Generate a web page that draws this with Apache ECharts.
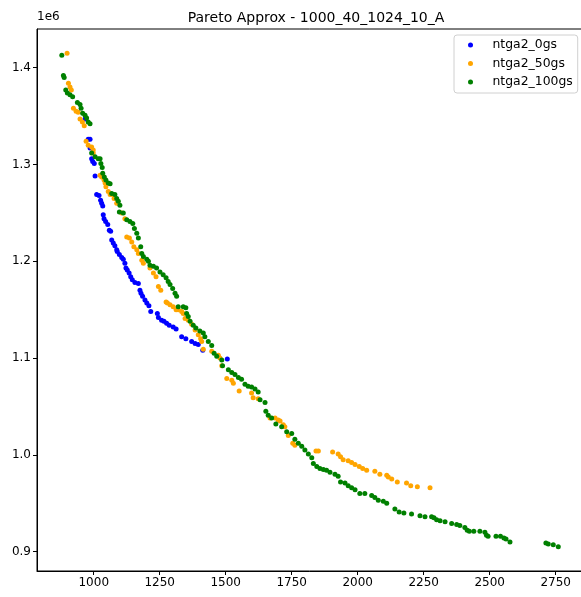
<!DOCTYPE html>
<html>
<head>
<meta charset="utf-8">
<script src="https://cdn.jsdelivr.net/npm/echarts@6/dist/echarts.min.js"></script>
<style>html,body{margin:0;padding:0;background:#fff}#c{width:581px;height:597px}</style>
</head>
<body>
<div id="c"></div>
<script>
const titleText = 'Pareto Approx - 1000_40_1024_10_A';
const seriesNames = ['ntga2_0gs', 'ntga2_50gs', 'ntga2_100gs'];
const xTicks = [1000, 1250, 1500, 1750, 2000, 2250, 2500, 2750];
const yTicks = [0.9, 1.0, 1.1, 1.2, 1.3, 1.4];

// values in units of 1e6 for y
const blueX = [967,979,986,986,992,996,1002,1005,1011,1020,1026,1030,1034,1036,1039,1045,1053,1059,1064,1068,1074,1080,1087,1089,1097,1106,1112,1118,1122,1127,1134,1140,1146,1156,1169,1175,1179,1185,1194,1201,1209,1216,1241,1245,1257,1266,1276,1286,1301,1312,1333,1349,1371,1384,1396,1413,1506];
const blueY = [1.347,1.326,1.326,1.317,1.306,1.303,1.301,1.288,1.269,1.268,1.263,1.260,1.257,1.248,1.244,1.241,1.238,1.232,1.231,1.222,1.219,1.216,1.212,1.210,1.207,1.204,1.202,1.198,1.193,1.191,1.188,1.184,1.181,1.178,1.177,1.170,1.167,1.164,1.160,1.157,1.154,1.148,1.146,1.142,1.139,1.138,1.136,1.134,1.132,1.130,1.122,1.120,1.117,1.115,1.114,1.108,1.099];

const orangeX = [899,904,910,915,923,933,941,948,957,964,971,979,992,998,998,1024,1030,1039,1043,1046,1055,1062,1072,1077,1087,1106,1118,1125,1135,1144,1152,1163,1169,1182,1188,1213,1226,1236,1245,1254,1274,1279,1289,1301,1312,1320,1333,1339,1346,1358,1371,1384,1396,1405,1409,1415,1447,1472,1478,1485,1504,1523,1529,1551,1598,1604,1623,1668,1687,1699,1706,1718,1724,1737,1754,1762,1842,1851,1905,1926,1935,1945,1964,1977,1990,2006,2019,2034,2065,2084,2110,2116,2129,2150,2185,2201,2226,2274];
const orangeY = [1.415,1.384,1.380,1.377,1.358,1.355,1.354,1.347,1.344,1.340,1.324,1.320,1.318,1.315,1.312,1.289,1.287,1.284,1.281,1.277,1.272,1.269,1.269,1.265,1.260,1.250,1.244,1.225,1.224,1.220,1.215,1.212,1.208,1.201,1.198,1.193,1.188,1.184,1.174,1.170,1.158,1.157,1.155,1.153,1.150,1.150,1.148,1.146,1.141,1.139,1.135,1.129,1.124,1.120,1.117,1.109,1.107,1.103,1.100,1.092,1.079,1.077,1.074,1.066,1.064,1.059,1.058,1.038,1.038,1.036,1.035,1.031,1.029,1.020,1.012,1.010,1.004,1.004,1.003,1.001,0.998,0.995,0.994,0.992,0.990,0.988,0.986,0.984,0.983,0.980,0.979,0.977,0.975,0.972,0.971,0.968,0.967,0.966];

const greenX = [879,885,888,894,900,910,920,938,948,952,958,967,973,979,986,992,1005,1017,1024,1027,1032,1034,1040,1046,1055,1062,1068,1080,1087,1093,1099,1097,1112,1125,1137,1148,1154,1163,1169,1178,1182,1188,1201,1207,1213,1226,1238,1251,1263,1274,1282,1289,1299,1308,1314,1320,1339,1349,1352,1358,1365,1377,1387,1402,1415,1421,1434,1447,1456,1466,1485,1488,1510,1523,1535,1548,1560,1573,1585,1598,1611,1623,1630,1649,1652,1661,1674,1690,1712,1731,1750,1762,1775,1788,1800,1813,1826,1832,1845,1857,1870,1882,1895,1914,1926,1935,1952,1964,1977,1990,2008,2027,2053,2065,2078,2097,2110,2141,2157,2175,2204,2236,2255,2280,2289,2299,2312,2331,2356,2375,2387,2406,2415,2423,2440,2463,2482,2488,2494,2524,2541,2554,2562,2577,2713,2722,2741,2760];
const greenY = [1.413,1.392,1.390,1.377,1.374,1.372,1.370,1.364,1.362,1.358,1.353,1.351,1.348,1.344,1.342,1.312,1.308,1.306,1.306,1.301,1.297,1.291,1.287,1.284,1.281,1.280,1.270,1.269,1.265,1.262,1.258,1.251,1.250,1.243,1.241,1.239,1.234,1.229,1.224,1.215,1.208,1.205,1.202,1.200,1.196,1.195,1.193,1.189,1.186,1.183,1.179,1.176,1.172,1.167,1.164,1.153,1.153,1.152,1.146,1.143,1.138,1.134,1.131,1.128,1.126,1.122,1.117,1.113,1.105,1.102,1.098,1.092,1.088,1.085,1.083,1.080,1.078,1.073,1.071,1.070,1.068,1.065,1.057,1.054,1.045,1.041,1.038,1.032,1.029,1.024,1.022,1.016,1.012,1.009,1.005,1.001,0.997,0.991,0.988,0.986,0.985,0.984,0.982,0.980,0.978,0.972,0.971,0.968,0.966,0.964,0.960,0.960,0.958,0.956,0.953,0.952,0.950,0.944,0.941,0.940,0.939,0.937,0.936,0.936,0.935,0.933,0.932,0.931,0.929,0.928,0.927,0.925,0.922,0.921,0.921,0.921,0.920,0.917,0.916,0.916,0.916,0.914,0.913,0.910,0.909,0.908,0.907,0.905];

const colors = ['#0000ff', '#ffa500', '#008000'];
const zip = (xs, ys) => xs.map((x, i) => [x, ys[i]]);
const FONT = 'DejaVu Sans';

const chart = echarts.init(document.getElementById('c'), null, {renderer: 'canvas'});
chart.setOption({
  animation: false,
  backgroundColor: '#ffffff',
  title: {
    text: titleText,
    left: 311, top: 6, textAlign: 'center',
    textStyle: {fontFamily: FONT, fontSize: 14, fontWeight: 'normal', color: '#000'}
  },
  graphic: [{
    type: 'text', left: 37, top: 11,
    style: {text: '1e6', font: '12px "DejaVu Sans"', fill: '#000'}
  }],
  legend: {
    orient: 'vertical',
    left: 454, top: 35,
    padding: [3, 5, 4, 14],
    backgroundColor: '#fff',
    borderColor: '#d0d0d0', borderWidth: 1, borderRadius: 3,
    icon: 'circle',
    itemWidth: 5, itemHeight: 5,
    itemGap: 4.5,
    textStyle: {fontFamily: FONT, fontSize: 12.4, color: '#000', lineHeight: 14, padding: [0, 0, 0, 14.5]},
    data: seriesNames
  },
  grid: {
    left: 37, top: 29, width: 549, height: 542,
    show: true, borderColor: '#000', borderWidth: 1,
    outerBoundsMode: 'none', containLabel: false
  },
  xAxis: {
    type: 'value', min: 785, max: 2865,
    axisLine: {show: true, lineStyle: {color: '#000', width: 1}},
    axisTick: {show: true, length: 4, lineStyle: {color: '#000'}, customValues: xTicks},
    axisLabel: {fontFamily: FONT, fontSize: 12, color: '#000', margin: 6, customValues: xTicks,
      formatter: v => String(v)},
    splitLine: {show: false}
  },
  yAxis: {
    type: 'value', min: 0.880, max: 1.440,
    axisLine: {show: true, lineStyle: {color: '#000', width: 1}},
    axisTick: {show: true, length: 4, lineStyle: {color: '#000'}, customValues: yTicks},
    axisLabel: {fontFamily: FONT, fontSize: 12, color: '#000', margin: 6, customValues: yTicks,
      formatter: v => v.toFixed(1)},
    splitLine: {show: false}
  },
  series: [
    {name: seriesNames[0], type: 'scatter', data: zip(blueX, blueY), symbolSize: 5, itemStyle: {color: colors[0], opacity: 1}},
    {name: seriesNames[1], type: 'scatter', data: zip(orangeX, orangeY), symbolSize: 5, itemStyle: {color: colors[1], opacity: 1}},
    {name: seriesNames[2], type: 'scatter', data: zip(greenX, greenY), symbolSize: 5, itemStyle: {color: colors[2], opacity: 1}}
  ]
});
</script>
</body>
</html>
